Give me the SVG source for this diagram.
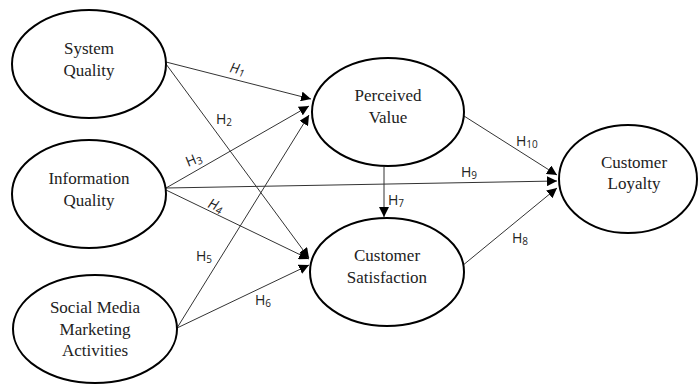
<svg xmlns="http://www.w3.org/2000/svg" width="699" height="385" viewBox="0 0 699 385">
<defs>
<style>
.node{fill:#fff;stroke:#000;stroke-width:2}
.conn{stroke:#333;stroke-width:1;fill:none;marker-end:url(#ah)}
</style>
<marker id="ah" viewBox="0 0 10 10" refX="10" refY="5" markerWidth="10" markerHeight="10" markerUnits="userSpaceOnUse" orient="auto">
<path d="M0,0 L10,5 L0,10 z" fill="#000"/>
</marker>
</defs>
<rect width="699" height="385" fill="#fff"/>
<g id="connectors">
<line class="conn" x1="166" y1="62" x2="311" y2="99"/>
<line class="conn" x1="166" y1="64" x2="309" y2="258"/>
<line class="conn" x1="166" y1="188" x2="309" y2="106"/>
<line class="conn" x1="166" y1="188" x2="557" y2="181"/>
<line class="conn" x1="166" y1="190" x2="309" y2="259"/>
<line class="conn" x1="177" y1="328" x2="309" y2="115"/>
<line class="conn" x1="177" y1="328" x2="309" y2="265"/>
<line class="conn" x1="384" y1="167" x2="384" y2="217"/>
<line class="conn" x1="464" y1="116" x2="557" y2="175"/>
<line class="conn" x1="462" y1="266" x2="557" y2="188"/>
<text x="229" y="72" font-family="Open Sans, sans-serif" font-size="14" fill="#222" font-style="italic" transform="rotate(12 229 72)">H<tspan font-size="10" dy="2">1</tspan></text>
<text x="216" y="124" font-family="Open Sans, sans-serif" font-size="14" fill="#222">H<tspan font-size="10" dy="2">2</tspan></text>
<text x="188" y="167" font-family="Open Sans, sans-serif" font-size="14" fill="#222" transform="rotate(-22 188 167)">H<tspan font-size="10" dy="2">3</tspan></text>
<text x="207" y="207" font-family="Open Sans, sans-serif" font-size="14" fill="#222" font-style="italic" transform="rotate(22 207 207)">H<tspan font-size="10" dy="2">4</tspan></text>
<text x="196" y="261" font-family="Open Sans, sans-serif" font-size="14" fill="#222">H<tspan font-size="10" dy="2">5</tspan></text>
<text x="255" y="305" font-family="Open Sans, sans-serif" font-size="14" fill="#222">H<tspan font-size="10" dy="2">6</tspan></text>
<text x="388" y="205" font-family="Open Sans, sans-serif" font-size="14" fill="#222">H<tspan font-size="10" dy="2">7</tspan></text>
<text x="512" y="243" font-family="Open Sans, sans-serif" font-size="14" fill="#222">H<tspan font-size="10" dy="2">8</tspan></text>
<text x="461" y="177" font-family="Open Sans, sans-serif" font-size="14" fill="#222">H<tspan font-size="10" dy="2">9</tspan></text>
<text x="516" y="146" font-family="Open Sans, sans-serif" font-size="14" fill="#222">H<tspan font-size="10" dy="2">10</tspan></text>
</g>
<g id="system-quality">
<ellipse class="node" cx="89" cy="64" rx="77" ry="54"/>
<text x="89" y="54" font-family="Liberation Serif, serif" font-size="17" fill="#222" text-anchor="middle">System</text>
<text x="89" y="76" font-family="Liberation Serif, serif" font-size="17" fill="#222" text-anchor="middle">Quality</text>
</g>
<g id="information-quality">
<ellipse class="node" cx="89" cy="194" rx="77" ry="54"/>
<text x="89" y="184" font-family="Liberation Serif, serif" font-size="17" fill="#222" text-anchor="middle">Information</text>
<text x="89" y="206" font-family="Liberation Serif, serif" font-size="17" fill="#222" text-anchor="middle">Quality</text>
</g>
<g id="social-media">
<ellipse class="node" cx="95" cy="329" rx="82" ry="54"/>
<text x="95" y="313" font-family="Liberation Serif, serif" font-size="17" fill="#222" text-anchor="middle">Social Media</text>
<text x="95" y="335" font-family="Liberation Serif, serif" font-size="17" fill="#222" text-anchor="middle">Marketing</text>
<text x="95" y="356" font-family="Liberation Serif, serif" font-size="17" fill="#222" text-anchor="middle">Activities</text>
</g>
<g id="perceived-value">
<ellipse class="node" cx="388" cy="112" rx="76" ry="54"/>
<text x="388" y="101" font-family="Liberation Serif, serif" font-size="17" fill="#222" text-anchor="middle">Perceived</text>
<text x="388" y="123" font-family="Liberation Serif, serif" font-size="17" fill="#222" text-anchor="middle">Value</text>
</g>
<g id="customer-satisfaction">
<ellipse class="node" cx="387" cy="272" rx="77" ry="54"/>
<text x="387" y="261" font-family="Liberation Serif, serif" font-size="17" fill="#222" text-anchor="middle">Customer</text>
<text x="387" y="283" font-family="Liberation Serif, serif" font-size="17" fill="#222" text-anchor="middle">Satisfaction</text>
</g>
<g id="customer-loyalty">
<ellipse class="node" cx="628" cy="179" rx="69" ry="54"/>
<text x="634" y="168" font-family="Liberation Serif, serif" font-size="17" fill="#222" text-anchor="middle">Customer</text>
<text x="634" y="189" font-family="Liberation Serif, serif" font-size="17" fill="#222" text-anchor="middle">Loyalty</text>
</g>
</svg>
